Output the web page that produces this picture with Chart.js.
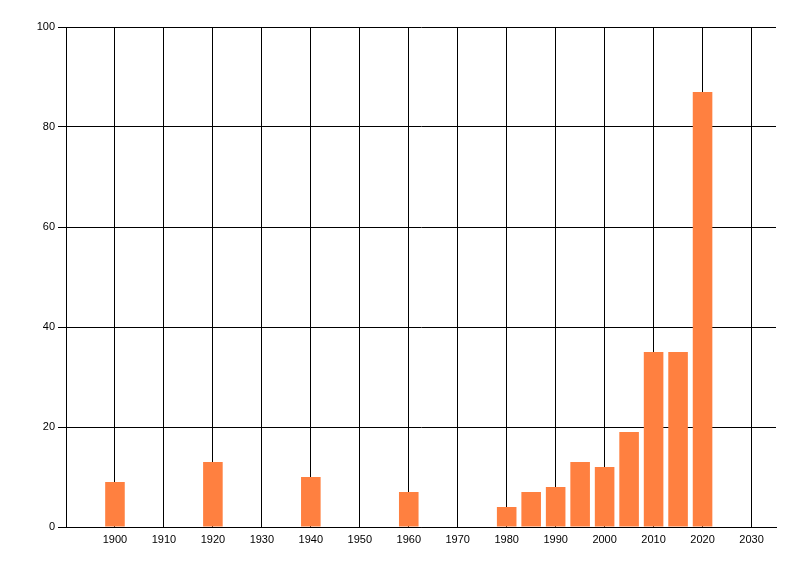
<!DOCTYPE html>
<html>
<head>
<meta charset="utf-8">
<script src="https://cdn.jsdelivr.net/npm/chart.js@4/dist/chart.umd.min.js"></script>
<style>
	html, body { margin: 0; padding: 0; background: #fff; }
	#wrap { width: 800px; height: 576px; }
</style>
</head>
<body>
<div id="wrap"><canvas id="yearChart"></canvas></div>
<script>
// years on the x axis and the bar heights
let years  = [1900, 1920, 1940, 1960, 1980, 1985, 1990, 1995, 2000, 2005, 2010, 2015, 2020];
let counts = [9, 13, 10, 7, 4, 7, 8, 13, 12, 19, 35, 35, 87];

// tick labels
let xTicks = [1900, 1910, 1920, 1930, 1940, 1950, 1960, 1970, 1980, 1990, 2000, 2010, 2020, 2030];
let yTicks = [0, 20, 40, 60, 80, 100];

function buildPoints(){
	let pts = [];
	for(i = 0; i < years.length; i++){
		pts.push({x: years[i], y: counts[i]});
	}
	return pts;
}

const tickFont = {family: 'Liberation Sans, Arial, sans-serif', size: 11};

var ctx = document.getElementById('yearChart').getContext('2d');
var myChart = new Chart(ctx, {
	type: 'bar',
	data: {
		datasets: [{
			data: buildPoints(),
			backgroundColor: '#ff8040',
			borderWidth: 0,
			categoryPercentage: 1.0,
			barPercentage: 0.8,
		}]
	},
	options: {
		responsive: true,
		maintainAspectRatio: false,
		animation: false,
		layout: {padding: {left: 0, top: 27, right: 24, bottom: 0}},
		plugins: {
			legend: {display: false},
			tooltip: {enabled: false},
		},
		scales: {
			x: {
				type: 'linear',
				min: 1890,
				max: 2035,
				offset: false, // bars sit right on the year, no padding at the ends
				afterBuildTicks: function(axis){
					axis.ticks = xTicks.map(v => ({value: v}));
				},
				afterFit: function(axis){ axis.height = 49; },
				grid: {color: '#000', lineWidth: 1, drawTicks: false, offset: false},
				border: {display: true, color: '#000', width: 1},
				ticks: {
					color: '#000',
					font: tickFont,
					padding: 6,
					maxRotation: 0,
					autoSkip: false,
					callback: v => String(v),
				},
			},
			y: {
				min: 0,
				max: 100,
				afterBuildTicks: function(axis){
					axis.ticks = yTicks.map(v => ({value: v}));
				},
				afterFit: function(axis){ axis.width = 66; },
				grid: {color: '#000', lineWidth: 1, drawTicks: true, tickLength: 8},
				border: {display: true, color: '#000', width: 1},
				ticks: {color: '#000', font: tickFont, padding: 3},
			}
		}
	}
});
</script>
</body>
</html>
